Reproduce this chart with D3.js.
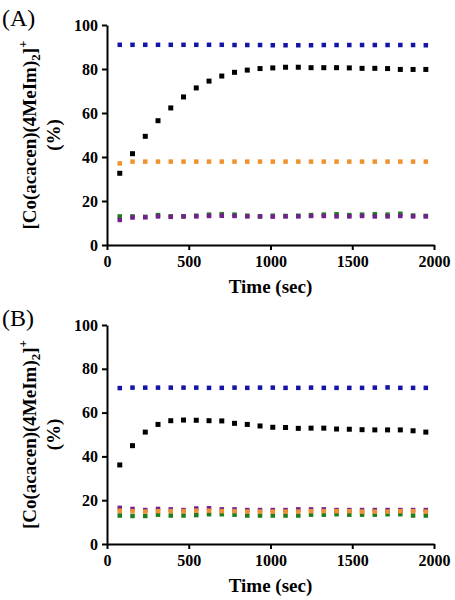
<!DOCTYPE html>
<html>
<head>
<meta charset="utf-8">
<script src="https://cdn.jsdelivr.net/npm/d3@7"></script>
<style>
  html, body { margin: 0; padding: 0; background: #fff; }
  svg { display: block; }
</style>
</head>
<body>
<svg id="chart" width="455" height="600"></svg>
<script>
// ---- data ----
const times = [78,156,234,312,390,468,546,624,702,780,858,936,1014,1092,1170,1248,1326,1404,1482,1560,1638,1716,1794,1872,1950];
const xTicks = [0, 500, 1000, 1500, 2000];
const yTicks = [0, 20, 40, 60, 80, 100];
const panelLabels = ["(A)", "(B)"];

// Panel A
const blueA   = [91,91,91,91,91,91,91,91,91,90.9,90.9,90.9,90.8,90.8,90.8,90.8,90.9,90.9,90.9,90.9,90.9,90.9,90.9,90.9,90.8];
const blackA  = [32.6,41.5,49.4,56.5,62.3,67.3,71.4,74.5,76.8,78.5,79.5,80.2,80.5,80.8,80.8,80.6,80.6,80.6,80.5,80.3,80.3,80.2,79.8,79.8,79.8];
const orangeA = [37.1,37.9,37.9,37.9,37.9,37.9,37.9,37.9,37.9,37.9,37.9,37.9,37.9,37.9,37.9,37.9,37.9,37.9,37.9,37.9,37.9,37.9,37.9,37.9,37.9];
const greenA  = [13.0,13.0,12.8,13.6,13.0,13.0,13.3,13.8,14.0,13.8,13.3,13.0,13.3,13.2,13.3,13.6,13.8,14.0,13.6,13.8,14.0,13.8,14.2,13.4,13.2];
const purpleA = [11.4,12.5,12.6,13.0,12.8,13.0,13.0,13.2,13.3,13.2,13.0,13.0,12.9,13.0,13.0,13.2,13.2,13.0,13.0,13.2,13.0,13.0,13.2,13.0,13.0];

// Panel B
const blueB   = [71.2,71.4,71.4,71.4,71.4,71.4,71.4,71.3,71.3,71.4,71.3,71.4,71.4,71.3,71.3,71.4,71.3,71.3,71.3,71.3,71.4,71.5,71.3,71.3,71.3];
const blackB  = [36.1,44.9,51.1,54.6,56.3,56.6,56.5,56.3,56.2,55.1,54.6,53.9,53.3,53.2,52.8,52.9,52.9,52.5,52.4,52.2,52.1,52.1,52.1,51.7,51.1];
const orangeB = [15.2,15.0,14.8,15.0,15.0,15.0,15.2,15.2,15.0,15.0,14.8,14.8,14.8,14.8,14.8,15.0,15.0,15.0,15.0,14.8,14.8,14.8,15.0,15.0,14.8];
const greenB  = [13.0,12.8,12.8,13.4,13.0,13.0,13.2,13.6,13.6,13.4,13.0,13.0,13.0,13.0,13.0,13.4,13.4,13.6,13.4,13.4,13.4,13.6,13.6,13.0,13.0];
const purpleB = [16.5,16.0,15.5,16.0,15.8,15.5,16.2,16.3,15.8,15.8,15.5,15.5,15.5,15.5,15.8,15.8,15.8,15.5,15.5,15.5,15.5,15.5,15.5,15.5,15.5];

const colors = { blue: "#1414a6", black: "#000000", orange: "#f0922e", green: "#1f7f1f", purple: "#72208e" };
const SERIF = "'Liberation Serif', 'Times New Roman', serif";

const panels = [
  { label: panelLabels[0], yTop: 25,  yBot: 245,
    series: [["green", greenA], ["purple", purpleA], ["orange", orangeA], ["black", blackA], ["blue", blueA]] },
  { label: panelLabels[1], yTop: 325, yBot: 544,
    series: [["green", greenB], ["purple", purpleB], ["orange", orangeB], ["black", blackB], ["blue", blueB]] }
];

const svg = d3.select("#chart");
const x = d3.scaleLinear().domain([0, 2000]).range([107, 434]);

panels.forEach((p) => {
  const y = d3.scaleLinear().domain([0, 100]).range([p.yBot, p.yTop]);
  const g = svg.append("g");

  // panel label
  g.append("text").attr("x", 2).attr("y", p.yTop + 1)
    .style("font-family", SERIF)
    .style("font-size", "24px").text(p.label);

  // axes
  const yAxis = d3.axisLeft(y).tickValues(yTicks).tickFormat(d3.format("d"))
    .tickSize(5).tickSizeOuter(0).tickPadding(4);
  const xAxis = d3.axisBottom(x).tickValues(xTicks).tickFormat(d3.format("d"))
    .tickSize(5).tickSizeOuter(0).tickPadding(6);

  const gy = g.append("g").attr("transform", `translate(${x(0)},0)`).call(yAxis);
  const gx = g.append("g").attr("transform", `translate(0,${y(0)})`).call(xAxis);
  [gy, gx].forEach(a => {
    a.select(".domain").attr("stroke", "#000").attr("stroke-width", 2);
    a.selectAll(".tick line").attr("stroke", "#000").attr("stroke-width", 2);
    a.selectAll(".tick text")
      .style("font-family", SERIF).style("font-weight", "bold")
      .style("font-size", "16px").attr("fill", "#000");
  });

  // x title
  g.append("text").attr("x", (x(0) + x(2000)) / 2).attr("y", y(0) + 48)
    .attr("text-anchor", "middle")
    .style("font-family", SERIF)
    .style("font-weight", "bold").style("font-size", "19px").text("Time (sec)");

  // y title (rotated)
  const cy = (p.yTop + p.yBot) / 2;
  const t1 = g.append("text")
    .attr("transform", `translate(36,${cy}) rotate(-90)`)
    .attr("text-anchor", "middle")
    .style("font-family", SERIF)
    .style("font-weight", "bold").style("font-size", "19px");
  t1.append("tspan").text("[Co(acacen)(4MeIm)");
  t1.append("tspan").style("font-size", "13px").attr("dy", 4).text("2");
  t1.append("tspan").attr("dy", -4).text("]");
  t1.append("tspan").style("font-size", "13px").attr("dy", -9).text("+");
  g.append("text")
    .attr("transform", `translate(60,${cy}) rotate(-90)`)
    .attr("text-anchor", "middle")
    .style("font-family", SERIF)
    .style("font-weight", "bold").style("font-size", "19px").text("(%)");

  // markers
  p.series.forEach(([name, vals]) => {
    const s = name === "black" ? 5 : 4.5;
    g.append("g").selectAll("rect").data(vals).join("rect")
      .attr("x", (d, i) => x(times[i]) - s / 2)
      .attr("y", d => y(d) - s / 2)
      .attr("width", s).attr("height", s)
      .attr("fill", colors[name]);
  });
});
</script>
</body>
</html>
